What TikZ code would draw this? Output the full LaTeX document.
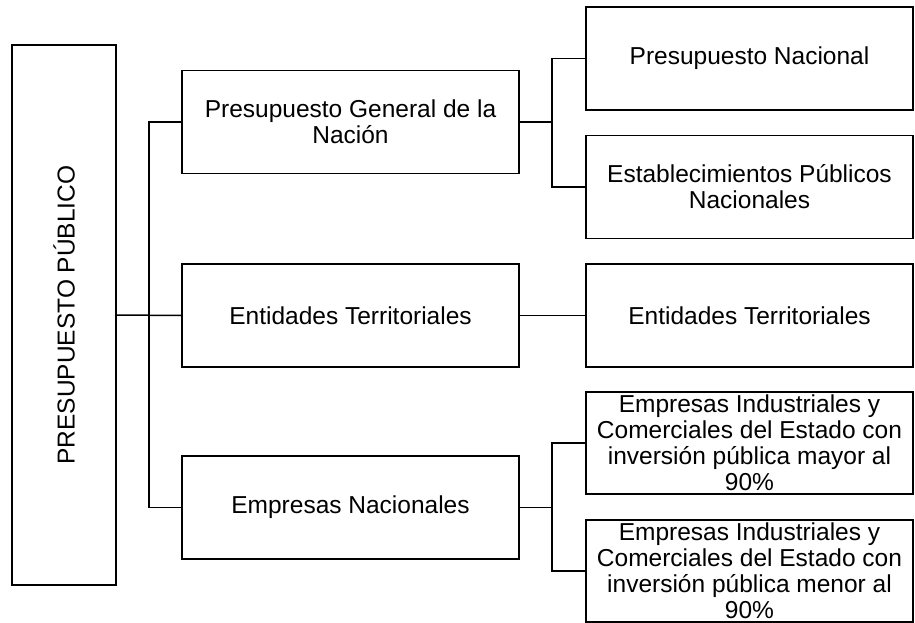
\documentclass[tikz,border=0pt]{standalone}
\usepackage{fontspec}
\setmainfont{Liberation Sans}
\usepackage{tikz}

\begin{document}
\begin{tikzpicture}[x=1pt, y=-1pt,
    box/.style={draw, line width=1.8pt, inner sep=0pt, align=center,
        font=\fontsize{24.5}{26}\selectfont},
    midbox/.style={box, minimum width=337pt, minimum height=103pt},
    sidebox/.style={box, minimum width=327pt, minimum height=103pt},
    link/.style={line width=1.5pt}]

\useasboundingbox ( 0, 0 ) rectangle ( 915, 623 );

% Root
\node [box, rotate=90, minimum width=540pt, minimum height=104pt] (root) at ( 64, 315 ) {PRESUPUESTO PÚBLICO};

% Middle level
\node [midbox] (gen) at ( 350.5, 122 ) {Presupuesto General de la\\Nación};
\node [midbox] (ter) at ( 350.5, 315.5 ) {Entidades Territoriales};
\node [midbox] (emp) at ( 350.5, 507.5 ) {Empresas Nacionales};

% Right level
\node [sidebox] (pn) at ( 749.5, 58.5 ) {Presupuesto Nacional};
\node [sidebox] (ep) at ( 749.5, 187 ) {Establecimientos Públicos\\Nacionales};
\node [sidebox] (et) at ( 749.5, 315.5 ) {Entidades Territoriales};
\node [sidebox, minimum height=102pt] (eicMay) at ( 749.5, 443 ) {Empresas Industriales y\\Comerciales del Estado con\\inversión pública mayor al\\90\%};
\node [sidebox, minimum height=102pt] (eicMen) at ( 749.5, 571 ) {Empresas Industriales y\\Comerciales del Estado con\\inversión pública menor al\\90\%};

% Links
\coordinate (trunk) at ( 149, 315 );
\coordinate (forkGen) at ( 552, 122 );
\coordinate (forkEmp) at ( 552, 507.5 );

\draw [link] (root.south) -- (ter.west);
\draw [link] (gen.west) -| (trunk) |- (emp.west);

\draw [link] (gen.east) -- (forkGen);
\draw [link] (pn.west) -| (forkGen) |- (ep.west);

\draw [link] (ter.east) -- (et.west);

\draw [link] (emp.east) -- (forkEmp);
\draw [link] (eicMay.west) -| (forkEmp) |- (eicMen.west);

\end{tikzpicture}
\end{document}
